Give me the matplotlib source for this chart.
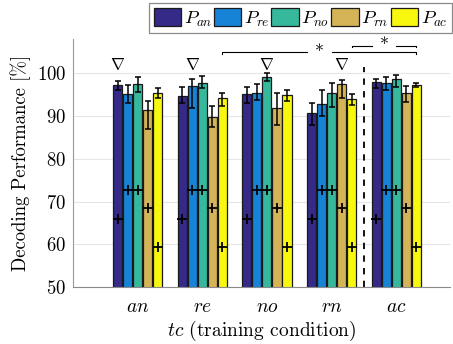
import matplotlib
matplotlib.use("Agg")
import matplotlib.pyplot as plt
import numpy as np
from matplotlib.patches import Patch

plt.rcParams["font.family"] = "serif"
plt.rcParams["font.serif"] = ["cmr10"]
plt.rcParams["mathtext.fontset"] = "cm"
plt.rcParams["axes.formatter.use_mathtext"] = True
plt.rcParams["axes.unicode_minus"] = False

# training conditions (groups) and decoders (bars)
CONDITIONS = ["an", "re", "no", "rn", "ac"]
DECODERS = ["an", "re", "no", "rn", "ac"]
COLORS = ["#352a87", "#1683d7", "#35b89c", "#d5b457", "#f8f80f"]

# mean decoding performance [%], rows = training condition, cols = decoder
MEAN = [
    [97.3, 95.1, 97.4, 91.4, 95.3],  # an
    [94.8, 97.1, 97.7, 89.7, 94.2],  # re
    [95.1, 95.5, 99.2, 91.8, 94.9],  # no
    [90.8, 92.8, 95.5, 97.4, 94.0],  # rn
    [97.9, 97.7, 98.6, 95.3, 97.3],  # ac
]
# lower / upper ends of the error bars [%]
LOW = [
    [96.1, 93.0, 95.6, 86.9, 94.3],
    [93.1, 91.8, 96.5, 87.5, 92.4],
    [93.0, 93.8, 98.3, 87.9, 93.6],
    [87.9, 89.9, 92.1, 94.2, 92.6],
    [96.5, 96.0, 96.9, 93.4, 96.9],
]
HIGH = [
    [98.3, 97.3, 99.1, 93.6, 96.5],
    [96.7, 98.6, 99.4, 92.4, 95.3],
    [96.9, 97.5, 100.0, 95.4, 96.1],
    [93.1, 96.1, 97.7, 98.4, 95.2],
    [98.6, 99.2, 99.6, 97.0, 97.8],
]
# chance level of each decoder [%]
CHANCE = [65.9, 72.6, 72.6, 68.6, 59.4]

mean = np.array(MEAN)
low = np.array(LOW)
high = np.array(HIGH)

fig = plt.figure(figsize=(4.53, 3.44), dpi=100)
ax = fig.add_axes([0.1611, 0.1657, 0.8322, 0.7206])

centers = np.arange(1, len(CONDITIONS) + 1)
pitch = 0.155
bw = 0.14

for j, dec in enumerate(DECODERS):
    xs = centers + (j - 2) * pitch
    ax.bar(xs, mean[:, j], bw, bottom=0, color=COLORS[j], edgecolor="#1a1a1a",
           linewidth=0.9, zorder=2)
    ax.errorbar(xs, mean[:, j], yerr=[mean[:, j] - low[:, j], high[:, j] - mean[:, j]],
                fmt="none", ecolor="k", elinewidth=1.1, capsize=2.4, capthick=1.1, zorder=3)
    ax.plot(xs, [CHANCE[j]] * len(xs), ls="none", marker="+", ms=7.5, mew=1.3,
            color="k", zorder=4)

# matched decoder marked above each group
for i in range(4):
    ax.text(centers[i] + (i - 2) * pitch, 102.0, r"$\nabla$", ha="center", va="center",
            fontsize=12)

# split between single-condition and all-condition training
ax.plot([4.5, 4.5], [50, 101.4], ls=(0, (3.5, 3.5)), color="k", lw=1.3, zorder=1)

# significance brackets
def bracket(x0, x1, y, gap, tick):
    xm = (x0 + x1) / 2
    kw = dict(color="k", lw=0.8, clip_on=False)
    ax.plot([x0, x0, xm - gap], [y - tick, y, y], **kw)
    ax.plot([xm + gap, x1, x1], [y, y, y - tick], **kw)
    ax.text(xm, y - 0.1, "*", ha="center", va="center", fontsize=13)

bracket(2 + 2 * pitch, 5 + 2 * pitch, 105.0, 0.19, 0.4)
bracket(4 + 2 * pitch, 5 + 2 * pitch, 106.5, 0.18, 0.4)

ax.set_xlim(0, 5.83)
ax.set_ylim(50, 108)
ax.set_yticks([50, 60, 70, 80, 90, 100])
ax.set_xticks(centers)
ax.set_xticklabels([f"${c}$" for c in CONDITIONS], fontsize=14)
ax.tick_params(axis="y", labelsize=13.5, length=0, pad=5)
ax.tick_params(axis="x", length=0, pad=8)
ax.grid(axis="y", color="#e6e6e6", lw=0.8, zorder=0)
ax.set_axisbelow(True)
for s in ["top", "right"]:
    ax.spines[s].set_visible(False)
ax.spines["left"].set_color("#9a9a9a")
ax.spines["bottom"].set_color("#8a8a8a")
ax.spines["left"].set_bounds(50, 108)

ax.set_ylabel("Decoding Performance [%]", fontsize=13.5)
ax.set_xlabel(r"$tc$ (training condition)", fontsize=14, labelpad=2)

handles = [Patch(facecolor=COLORS[j], edgecolor="#1a1a1a", lw=0.9) for j in range(5)]
labels = [f"$P_{{{d}}}$" for d in DECODERS]
leg = fig.legend(handles, labels, loc="upper right", ncol=5, fontsize=13.5,
                 bbox_to_anchor=(452 / 453, 1 - 3 / 344), bbox_transform=fig.transFigure,
                 frameon=True, fancybox=False, edgecolor="#8a8a8a", framealpha=1,
                 handlelength=1.45, handleheight=1.15, handletextpad=0.15,
                 columnspacing=0.1, borderpad=0.25, borderaxespad=0)
leg.get_frame().set_linewidth(0.9)

fig.savefig("out.png", dpi=100)
